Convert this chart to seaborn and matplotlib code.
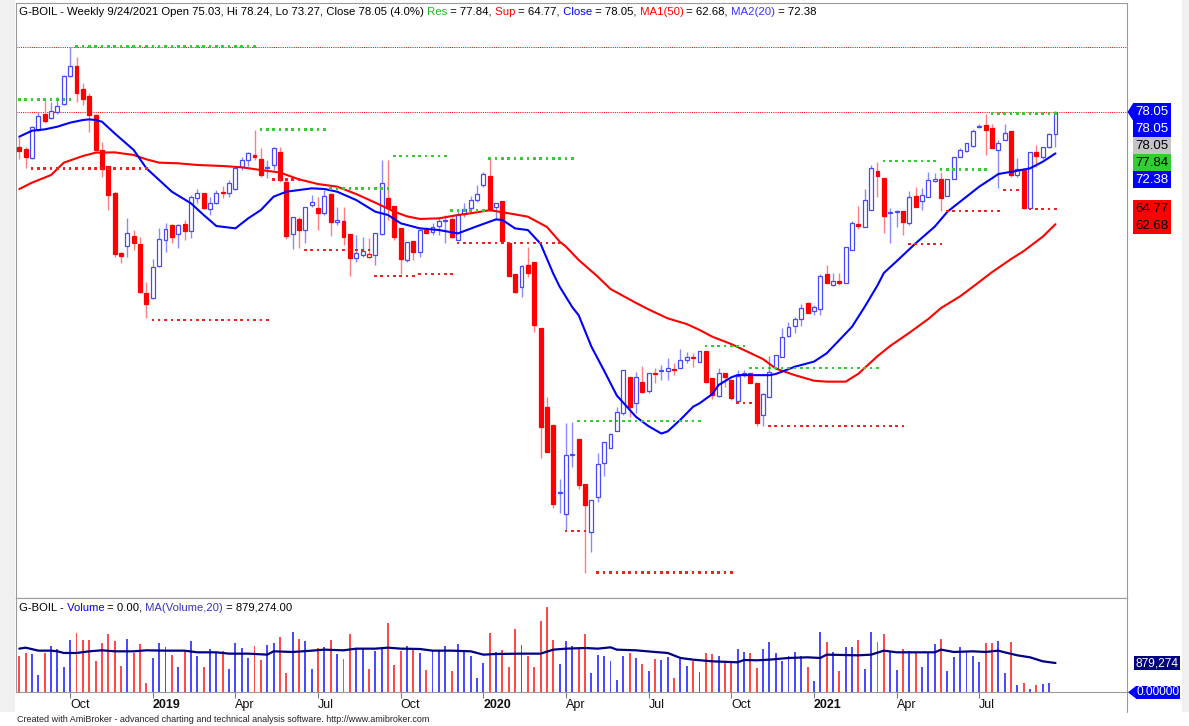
import numpy as np
import pandas as pd
import matplotlib
matplotlib.use("Agg")
import matplotlib.pyplot as plt
import matplotlib.transforms as mtransforms
from matplotlib.patches import Rectangle, Polygon
from matplotlib.lines import Line2D
import seaborn as sns

# --- data (weekly bars, G-BOIL) ---
TICKER = "G-BOIL"
FIRST_WEEK = "2018-08-10"

opens = [
    73.21, 72.98, 71.70, 75.58, 77.77, 77.18, 78.09, 79.10, 82.98, 84.35,
    81.20, 80.24, 77.64, 72.84, 70.65, 66.91, 58.69, 59.74, 61.11, 59.97,
    53.21, 52.52, 57.00, 60.51, 62.57, 61.29, 62.71, 61.79, 66.31, 66.91,
    64.76, 65.54, 67.00, 66.91, 67.45, 70.47, 71.47, 72.16, 71.61, 70.42,
    70.79, 72.52, 68.40, 61.33, 63.34, 61.88, 65.31, 64.85, 64.16, 66.81,
    63.02, 63.16, 61.29, 58.00, 58.46, 58.14, 58.46, 61.33, 66.22, 65.17,
    62.11, 57.77, 60.42, 58.91, 61.88, 61.65, 62.43, 63.16, 63.39, 60.51,
    64.07, 64.85, 65.99, 68.05, 69.28, 64.99, 65.85, 60.06, 55.86, 54.12,
    57.09, 57.54, 48.50, 37.59, 35.12, 25.81, 22.93, 31.06, 33.21, 27.09,
    20.56, 25.26, 29.92, 31.97, 34.35, 36.77, 41.79, 38.14, 41.10, 39.87,
    42.34, 42.52, 42.57, 42.84, 42.93, 44.07, 44.53, 43.84, 45.35, 41.56,
    39.14, 42.34, 41.33, 38.50, 42.02, 42.25, 40.97, 36.54, 39.05, 42.93,
    44.53, 47.36, 48.73, 49.65, 51.84, 50.79, 51.02, 55.85, 54.35, 54.94,
    54.58, 59.14, 62.70, 62.34, 64.62, 69.96, 68.96, 64.17, 64.39, 64.48,
    62.80, 66.54, 65.90, 66.45, 68.64, 68.87, 66.54, 68.82, 71.84, 72.70,
    73.39, 76.04, 76.27, 75.81, 72.84, 74.21, 75.44, 69.42, 70.24, 64.85,
    72.52, 71.93, 73.30, 75.03,
]
highs = [
    74.67, 73.30, 76.13, 78.09, 79.69, 79.46, 80.15, 83.12, 87.00, 85.63,
    81.97, 80.60, 77.77, 73.98, 70.65, 67.13, 58.92, 63.48, 61.88, 60.97,
    54.81, 57.87, 62.11, 62.80, 62.71, 62.66, 63.25, 66.68, 67.45, 66.91,
    66.45, 67.36, 67.91, 68.73, 70.45, 71.93, 72.61, 75.58, 73.07, 71.47,
    73.30, 73.30, 68.80, 63.71, 63.60, 65.10, 66.68, 66.45, 67.36, 66.90,
    65.08, 65.08, 61.40, 61.20, 60.97, 60.74, 61.42, 71.47, 71.47, 65.17,
    62.11, 60.28, 60.42, 61.88, 62.34, 62.89, 63.48, 63.94, 63.71, 64.71,
    65.53, 66.54, 68.05, 69.78, 71.70, 65.63, 65.85, 60.06, 55.86, 57.09,
    59.60, 57.54, 48.50, 38.96, 35.12, 27.73, 35.49, 35.63, 33.21, 27.09,
    24.89, 31.38, 32.79, 34.03, 37.59, 42.70, 41.79, 42.47, 43.25, 42.34,
    42.93, 43.39, 44.30, 43.71, 45.53, 45.21, 44.99, 45.35, 45.35, 41.56,
    42.93, 42.34, 41.42, 42.70, 42.70, 42.25, 40.97, 39.51, 44.62, 44.76,
    48.41, 49.33, 50.01, 51.75, 52.07, 51.61, 55.85, 57.09, 56.04, 56.04,
    59.60, 63.16, 65.17, 67.45, 70.79, 71.24, 68.96, 64.85, 64.62, 64.48,
    67.27, 67.73, 67.59, 69.87, 69.74, 69.87, 68.87, 71.93, 73.07, 73.85,
    75.67, 76.40, 77.84, 76.40, 74.21, 76.40, 75.44, 71.70, 70.24, 72.52,
    73.53, 73.30, 75.12, 78.24,
]
lows = [
    71.56, 70.42, 71.61, 75.49, 76.49, 77.04, 77.77, 79.01, 82.89, 79.46,
    79.01, 75.35, 72.75, 69.19, 64.62, 58.23, 57.32, 58.23, 59.14, 53.21,
    49.78, 52.43, 56.86, 58.82, 60.06, 59.37, 60.51, 60.74, 65.54, 64.70,
    63.94, 65.40, 66.22, 66.45, 67.30, 70.10, 70.65, 71.47, 69.19, 68.96,
    70.10, 68.50, 60.70, 59.23, 59.37, 60.06, 65.08, 61.88, 63.94, 61.06,
    62.57, 59.83, 55.58, 57.54, 58.23, 58.00, 57.09, 61.20, 63.25, 60.51,
    55.86, 57.54, 57.77, 58.23, 61.42, 61.20, 61.20, 60.15, 60.74, 60.51,
    63.71, 64.71, 65.76, 67.82, 64.50, 63.25, 60.42, 55.58, 53.21, 52.75,
    55.49, 47.95, 30.60, 31.43, 23.75, 23.16, 20.79, 29.46, 26.36, 14.90,
    17.82, 24.67, 28.18, 31.97, 34.35, 36.54, 36.31, 36.77, 39.51, 39.51,
    40.88, 41.33, 41.33, 42.02, 42.93, 43.62, 43.16, 43.84, 40.97, 38.68,
    39.05, 40.42, 38.59, 38.37, 41.79, 40.88, 35.03, 35.03, 39.05, 42.93,
    44.44, 47.27, 47.73, 48.73, 50.47, 50.24, 50.24, 54.58, 54.21, 54.35,
    54.58, 59.14, 61.97, 62.34, 64.62, 66.45, 61.43, 60.06, 62.25, 61.20,
    62.57, 64.99, 64.62, 66.45, 68.50, 64.53, 66.54, 68.82, 71.84, 72.61,
    73.30, 75.81, 72.16, 73.07, 67.59, 74.21, 69.19, 69.19, 64.77, 64.85,
    70.56, 71.56, 73.07, 73.27,
]
closes = [
    72.75, 71.84, 75.95, 77.50, 76.86, 78.18, 78.87, 82.98, 84.35, 80.60,
    79.78, 77.64, 72.84, 70.19, 66.63, 58.55, 58.37, 61.52, 60.06, 53.35,
    51.75, 56.77, 60.60, 62.07, 60.88, 62.57, 61.75, 66.45, 67.00, 64.85,
    65.63, 67.00, 66.91, 68.28, 70.33, 71.47, 72.39, 71.93, 69.42, 70.56,
    73.07, 68.73, 61.00, 63.62, 61.88, 64.99, 65.76, 64.16, 66.54, 63.02,
    63.25, 60.97, 58.00, 58.78, 59.00, 58.55, 61.42, 68.27, 64.85, 60.88,
    57.86, 60.28, 58.91, 61.88, 61.42, 62.34, 63.16, 63.25, 60.88, 63.94,
    64.76, 65.99, 66.81, 69.55, 64.62, 65.53, 60.42, 55.58, 53.43, 56.95,
    56.04, 48.87, 34.94, 31.43, 24.30, 25.99, 31.06, 31.20, 26.95, 24.21,
    24.89, 29.83, 32.79, 33.94, 37.00, 42.70, 37.59, 41.70, 39.73, 42.34,
    42.16, 42.66, 42.93, 42.70, 44.07, 44.44, 44.39, 45.35, 41.10, 39.28,
    42.25, 41.70, 38.82, 41.88, 42.34, 40.88, 35.49, 39.42, 42.47, 44.76,
    47.27, 48.55, 49.65, 51.15, 50.56, 51.29, 55.63, 54.58, 54.94, 54.58,
    59.60, 62.89, 62.43, 65.99, 70.42, 69.28, 63.80, 64.35, 64.48, 63.02,
    66.36, 64.99, 66.68, 68.73, 68.87, 66.22, 68.87, 71.93, 72.84, 73.75,
    75.49, 76.17, 75.58, 73.07, 73.75, 75.21, 69.42, 70.24, 64.85, 72.52,
    72.06, 73.30, 75.05, 78.05,
]
volume_k = [
    1100, 1180, 1150, 530, 1180, 1380, 1300, 750, 1580, 1780,
    1560, 1560, 930, 1480, 1750, 1530, 790, 1610, 1180, 1460,
    280, 1030, 1480, 1350, 1130, 750, 1230, 1530, 1100, 760,
    1300, 1180, 1230, 710, 1480, 1330, 1030, 1380, 980, 1430,
    1480, 1660, 580, 1800, 1600, 1530, 710, 1330, 1350, 1560,
    1150, 1000, 1750, 1330, 1330, 710, 1230, 1330, 2080, 830,
    1230, 1380, 1280, 1180, 680, 1230, 1230, 1380, 650, 1450,
    1200, 1100, 430, 880, 1780, 1200, 1280, 760, 1900, 1410,
    1100, 750, 2130, 2560, 1560, 850, 1530, 1380, 1330, 1750,
    580, 1130, 1080, 950, 360, 1080, 1180, 1030, 850, 650,
    1000, 980, 1050, 430, 1000, 800, 950, 610, 1180, 1150,
    1080, 910, 880, 1300, 1210, 1180, 730, 1300, 1510, 1180,
    930, 1080, 1210, 1080, 760, 330, 1820, 1510, 1200, 630,
    1350, 1350, 1580, 700, 1820, 1510, 1750, 1230, 680, 1300,
    1250, 1210, 750, 1180, 1460, 1610, 650, 1050, 1350, 1250,
    1100, 900, 1480, 1480, 1530, 580, 1510, 210, 280, 100,
    210, 250, 280, 0,
]

# moving averages as drawn (sampled at bar numbers)
ma20_bar = [0, 2, 4, 6, 8, 10, 11, 12, 13, 15, 18, 20, 22, 24, 27, 29, 31, 34, 36, 38,
            40, 42, 44, 46, 48, 50, 53, 56, 58, 60, 63, 66, 69, 72, 75, 76, 78, 80, 82, 84,
            85, 87, 88, 90, 92, 94, 97, 99, 101, 102, 104, 106, 107, 109, 110, 112, 113, 115, 118, 119,
            122, 125, 127, 129, 131, 133, 135, 136, 138, 141, 144, 146, 149, 151, 153, 154, 157, 159, 161, 163]
ma20_val = [74.67, 75.49, 75.67, 76.04, 76.59, 76.95, 77.04, 76.95, 76.72, 75.12, 72.84, 70.33, 68.73, 67.13, 65.54, 63.94, 62.43, 62.11, 63.48, 64.62,
            66.45, 67.13, 67.36, 67.59, 67.50, 67.13, 65.99, 64.39, 63.94, 62.80, 62.11, 61.88, 61.42, 62.40, 63.34, 63.25, 62.10, 61.88, 60.00, 55.90,
            54.12, 51.30, 50.20, 45.90, 42.60, 39.20, 36.30, 35.00, 34.00, 34.30, 35.90, 37.68, 38.14, 39.40, 40.65, 41.70, 42.02, 42.00, 42.00, 42.16,
            43.16, 43.85, 44.99, 46.81, 48.64, 51.38, 54.30, 56.00, 57.60, 60.06, 62.34, 64.39, 66.45, 67.82, 68.96, 69.55, 70.01, 70.33, 71.24, 72.38]
ma50_bar = [0, 2, 5, 7, 10, 12, 15, 18, 20, 22, 25, 28, 32, 35, 38, 41, 44, 47, 50, 53,
            56, 59, 61, 63, 66, 69, 71, 74, 77, 80, 83, 85, 86, 88, 91, 93, 97, 99, 102, 105,
            107, 109, 112, 114, 117, 119, 122, 125, 127, 130, 132, 133, 135, 137, 140, 143, 145, 148, 150, 153,
            156, 158, 161, 163]
ma50_val = [67.50, 68.37, 69.42, 71.11, 72.02, 72.48, 72.52, 72.16, 71.56, 71.11, 71.02, 70.79, 70.65, 70.47, 70.10, 69.76, 68.82, 68.18, 67.82, 66.81,
            65.63, 64.39, 63.75, 63.40, 63.48, 63.94, 64.17, 64.60, 64.17, 63.71, 62.30, 60.30, 59.60, 57.77, 55.49, 53.80, 51.90, 51.00, 49.78, 49.00,
            48.20, 47.27, 46.26, 45.44, 44.20, 42.90, 42.00, 41.24, 41.11, 41.11, 42.20, 43.00, 44.60, 46.00, 47.80, 49.70, 51.20, 52.80, 54.10, 56.10,
            57.90, 59.00, 60.97, 62.68]
vma_bar = [0, 1, 3, 5, 6, 7, 9, 11, 13, 15, 18, 20, 23, 26, 28, 31, 33, 36, 39, 40,
           43, 46, 48, 51, 53, 56, 58, 60, 63, 65, 68, 71, 73, 75, 79, 82, 84, 86, 89, 91,
           93, 94, 97, 100, 102, 104, 106, 109, 113, 114, 116, 118, 121, 124, 126, 127, 132, 134, 136, 138,
           142, 144, 145, 147, 150, 152, 154, 155, 157, 159, 161, 163]
vma_k = [1310, 1340, 1250, 1250, 1230, 1180, 1180, 1230, 1260, 1230, 1230, 1260, 1250, 1250, 1200, 1200, 1160, 1160, 1130, 1230,
         1210, 1250, 1280, 1260, 1310, 1310, 1340, 1310, 1300, 1250, 1250, 1230, 1130, 1150, 1160, 1160, 1280, 1310, 1330, 1310,
         1350, 1280, 1260, 1210, 1180, 1030, 980, 930, 900, 970, 960, 980, 1030, 1050, 1030, 1130, 1110, 1130, 1250, 1200,
         1200, 1200, 1280, 1210, 1230, 1210, 1250, 1200, 1110, 1050, 930, 879.274]

# resistance (green) and support (red) levels: first bar, last bar, price
res_start = [0, 9, 38, 49, 59, 68, 74, 88, 108, 115, 136, 145, 153]
res_end = [8, 37, 48, 58, 67, 73, 87, 107, 114, 135, 144, 152, 163]
res_level = [79.79, 87.00, 75.68, 67.59, 72.02, 64.53, 71.70, 35.72, 46.00, 42.97, 71.33, 70.19, 77.84]
sup_start = [2, 21, 40, 45, 56, 63, 69, 86, 91, 113, 118, 140, 146, 155, 159]
sup_end = [20, 39, 44, 55, 62, 68, 85, 89, 112, 115, 139, 145, 154, 157, 163]
sup_level = [70.33, 49.55, 68.80, 59.14, 55.58, 55.86, 60.10, 20.65, 14.93, 38.20, 35.03, 59.97, 64.48, 67.36, 64.77]

assert len(opens) == len(highs) == len(lows) == len(closes) == len(volume_k)

# --- frame ---
df = pd.DataFrame({"open": opens, "high": highs, "low": lows, "close": closes,
                   "volume": np.array(volume_k, dtype=float) * 1000})
n = len(df)
df["bar"] = np.arange(n)
df["date"] = pd.date_range(FIRST_WEEK, periods=n, freq="W-FRI")
prev_close = df["close"].shift(1).fillna(df["open"])
df["up"] = df["close"] >= prev_close
df["hollow"] = df["close"] >= df["open"]

# --- style ---
sns.set_theme(style="white")
plt.rcParams["font.family"] = ["Liberation Sans", "DejaVu Sans"]

RED = "#ff0000"
BLUE = "#0000ff"
CANDLE_BLUE = "#4848ff"
GREEN = "#33cc33"
NAVY = "#000080"
GRID = "#9a9a9a"

W, H = 1189, 726
fig = plt.figure(figsize=(W / 100, H / 100), dpi=100, facecolor="white")


def box(x0, y0, x1, y1):
    return [x0 / W, 1 - y1 / H, (x1 - x0) / W, (y1 - y0) / H]


fig.patches.append(Rectangle((0, 1 - 712 / H), 15 / W, 712 / H, transform=fig.transFigure,
                             facecolor="#f0f0f0", edgecolor="none", zorder=0))
fig.patches.append(Rectangle((1182 / W, 1 - 712 / H), 7 / W, 712 / H, transform=fig.transFigure,
                             facecolor="#f0f0f0", edgecolor="none", zorder=0))

PX_PER_UNIT = 7.3
TOP_PRICE = 92.98
ax = fig.add_axes(box(16, 3, 1127, 598))
axv = fig.add_axes(box(16, 598, 1127, 692.3), sharex=ax)
XLIM = (-0.52, 174.25)
ax.set_xlim(*XLIM)
ax.set_ylim(TOP_PRICE - (598 - 3) / PX_PER_UNIT, TOP_PRICE)
VOL_TOP = 2830e3
axv.set_ylim(0, VOL_TOP)

for a in (ax, axv):
    a.set_facecolor("white")
    for s in a.spines.values():
        s.set_color(GRID)
        s.set_linewidth(0.8)
    a.tick_params(left=False, right=False, labelleft=False)
ax.tick_params(bottom=False, labelbottom=False)

# full-width dotted lines at the highest high and the last close
ax.axhline(df["high"].max(), color=RED, lw=0.72, ls=(0, (1, 1.2)), zorder=1)
ax.axhline(df["close"].iloc[-1], color=RED, lw=0.72, ls=(0, (1, 1.2)), zorder=1)

# candles
wick_col = np.where(df["up"], "#8a8aff", "#ff7f7f")
edge_col = np.where(df["up"], CANDLE_BLUE, RED)
face_col = np.where(df["hollow"], "white", edge_col)
body_lo = np.minimum(df["open"], df["close"])
body_h = np.maximum((df["close"] - df["open"]).abs(), 0.14)
ax.vlines(df["bar"], df["low"], df["high"], colors=wick_col, lw=1.0, zorder=2)
ax.bar(df["bar"], body_h, bottom=body_lo, width=0.62, color=face_col,
       edgecolor=edge_col, linewidth=0.9, zorder=3)

# moving averages
sns.lineplot(x=ma50_bar, y=ma50_val, ax=ax, color=RED, linewidth=1.5, zorder=4)
sns.lineplot(x=ma20_bar, y=ma20_val, ax=ax, color=BLUE, linewidth=1.5, zorder=4)

# support / resistance dots, one per bar
for starts, ends, levels, col in ((res_start, res_end, res_level, GREEN),
                                  (sup_start, sup_end, sup_level, "#ee2222")):
    for s, e, lv in zip(starts, ends, levels):
        bars = np.arange(s, e + 1)
        sns.scatterplot(x=bars, y=np.full(len(bars), lv), ax=ax, marker="s", s=3.5,
                        color=col, edgecolor="none", linewidth=0, zorder=5)

# volume
vol_col = np.where(df["up"], "#4a4aff", "#ff4a4a")
axv.bar(df["bar"], df["volume"], width=0.3, color=vol_col, linewidth=0, zorder=2)
sns.lineplot(x=vma_bar, y=np.array(vma_k) * 1000, ax=axv, color=NAVY, linewidth=1.6, zorder=3)
ax.set_xlabel("")
ax.set_ylabel("")
axv.set_ylabel("")

# date axis
d = df["date"]
qmask = d.dt.month.isin([1, 4, 7, 10]) & (d.dt.month != d.shift(1).dt.month)
qt = df[qmask]
tick_labels = [str(x.year) if x.month == 1 else x.strftime("%b") for x in qt["date"]]
axv.set_xticks(qt["bar"])
axv.set_xticklabels(tick_labels, ha="left", fontsize=9, color="#111111")
shift = mtransforms.ScaledTranslation(4 / 72, 0, fig.dpi_scale_trans)
for lab, x in zip(axv.get_xticklabels(), qt["date"]):
    lab.set_transform(lab.get_transform() + shift)
    if x.month == 1:
        lab.set_fontweight("bold")
axv.tick_params(axis="x", bottom=True, direction="out", length=4, width=0.8,
                color="#808080", pad=0.5)
axv.set_xlim(*XLIM)
axv.set_xlabel("")
fig.add_artist(Line2D([1127 / W, 1127 / W], [1 - 692 / H, 1 - 712 / H], color=GRID, lw=0.8))

# --- multi-coloured headers ---
renderer = fig.canvas.get_renderer()


def colored_text(x, y, parts, size):
    for s, c in parts:
        t = fig.text(x / W, 1 - y / H, s, color=c, fontsize=size, ha="left", va="center")
        x += t.get_window_extent(renderer=renderer).width


last = df.iloc[-1]
chg = (last["close"] / df["close"].iloc[-2] - 1) * 100
dt = last["date"]
head = (f"{TICKER} - Weekly {dt.month}/{dt.day}/{dt.year} Open {last['open']:.2f}, "
        f"Hi {last['high']:.2f}, Lo {last['low']:.2f}, Close {last['close']:.2f} ({chg:.1f}%)")
colored_text(19, 12, [
    (head, "black"),
    (" Res", "#22bb22"), (f" = {res_level[-1]:.2f},", "black"),
    (" Sup", RED), (f" = {sup_level[-1]:.2f},", "black"),
    (" Close", BLUE), (f" = {last['close']:.2f},", "black"),
    (" MA1(50)", RED), (f" = {ma50_val[-1]:.2f},", "black"),
    (" MA2(20)", "#3333ff"), (f" = {ma20_val[-1]:.2f}", "black"),
], 8.2)

colored_text(19, 608, [
    (f"{TICKER} -", "black"), (" Volume", BLUE),
    (f" = {last['volume']:.2f},", "black"), (" MA(Volume,20)", "#3535c0"),
    (f" = {vma_k[-1] * 1000:,.2f}", "black"),
], 8.1)

fig.text(17 / W, 1 - 720 / H,
         "Created with AmiBroker - advanced charting and technical analysis software. http://www.amibroker.com",
         fontsize=6.5, color="#222222", ha="left", va="center")

# --- value labels on the right ---
axr = fig.add_axes(box(1127, 3, 1189, 598))
axr.set_xlim(0, 62)
axr.set_ylim(ax.get_ylim())
axr.axis("off")
LBL_H = 17 / PX_PER_UNIT
price_labels = [
    (last["close"], BLUE, "white"),
    (last["close"], BLUE, "white"),
    (last["close"], "#c4c4c4", "black"),
    (res_level[-1], GREEN, "black"),
    (ma20_val[-1], BLUE, "white"),
    (sup_level[-1], RED, "black"),
    (ma50_val[-1], RED, "black"),
]
prev = None
for val, fc, tc in price_labels:
    pos = val if prev is None else min(val, prev - LBL_H)
    axr.add_patch(Rectangle((6, pos - LBL_H / 2), 38, LBL_H, facecolor=fc, edgecolor="none"))
    axr.text(25, pos, f"{val:.2f}", color=tc, ha="center", va="center", fontsize=9.5)
    prev = pos
c0 = last["close"]
axr.add_patch(Polygon([(0.5, c0), (6, c0 + LBL_H / 2), (6, c0 - LBL_H / 2)], closed=True,
                      facecolor=BLUE, edgecolor="none"))

axvr = fig.add_axes(box(1127, 598, 1189, 692.3))
axvr.set_xlim(0, 62)
axvr.set_ylim(axv.get_ylim())
axvr.axis("off")
VH = 15 * 30e3
vlast = vma_k[-1] * 1000
axvr.add_patch(Rectangle((7, vlast - VH / 2), 46, VH, facecolor=NAVY, edgecolor="none"))
axvr.text(30, vlast, f"{vlast:,.0f}", color="white", ha="center", va="center", fontsize=8.6)
vmin = axv.get_ylim()[0]
axvr.add_patch(Rectangle((9, vmin - VH * 0.42), 44, VH * 0.84, facecolor=BLUE, edgecolor="none",
                         clip_on=False))
axvr.add_patch(Polygon([(1, vmin), (9, vmin + VH * 0.42), (9, vmin - VH * 0.42)], closed=True,
                       facecolor=BLUE, edgecolor="none", clip_on=False))
axvr.text(31, vmin, f"{vmin:.5f}", color="white", ha="center", va="center", fontsize=8.6,
          clip_on=False)

fig.savefig("out.png", dpi=100, facecolor=fig.get_facecolor())
